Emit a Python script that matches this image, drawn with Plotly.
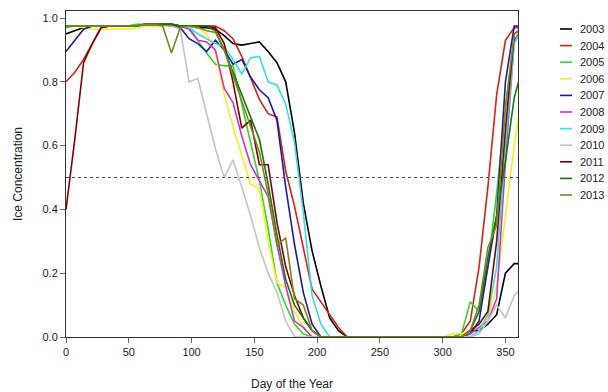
import plotly.graph_objects as go

# Day of year (weekly samples)
days = [0, 7, 14, 21, 28, 35, 42, 49, 56, 63, 70, 77, 84,
        91, 98, 105, 112, 119, 126, 133, 140, 147, 154, 161, 168, 175,
        182, 189, 196, 203, 210, 217, 224, 231, 238, 245, 252, 259, 266,
        273, 280, 287, 294, 301, 308, 315, 322, 329, 336, 343, 350, 357, 364]

years = ["2003", "2004", "2005", "2006", "2007", "2008", "2009", "2010", "2011", "2012", "2013"]

ice_2003 = [0.95, 0.96, 0.97, 0.975, 0.975, 0.975, 0.975, 0.975, 0.975, 0.98, 0.98, 0.98, 0.98,
            0.975, 0.975, 0.97, 0.97, 0.965, 0.945, 0.92, 0.915, 0.92, 0.925, 0.895, 0.86, 0.80,
            0.64, 0.42, 0.27, 0.16, 0.06, 0.02, 0.0, 0.0, 0.0, 0.0, 0.0, 0.0, 0.0,
            0.0, 0.0, 0.0, 0.0, 0.0, 0.0, 0.0, 0.02, 0.02, 0.04, 0.07, 0.20, 0.23, 0.23]
ice_2004 = [0.80, 0.83, 0.87, 0.92, 0.97, 0.975, 0.975, 0.975, 0.975, 0.98, 0.98, 0.98, 0.98,
            0.975, 0.975, 0.975, 0.975, 0.975, 0.96, 0.935, 0.88, 0.81, 0.745, 0.70, 0.69, 0.52,
            0.41, 0.28, 0.15, 0.11, 0.07, 0.03, 0.0, 0.0, 0.0, 0.0, 0.0, 0.0, 0.0,
            0.0, 0.0, 0.0, 0.0, 0.0, 0.0, 0.01, 0.05, 0.22, 0.47, 0.76, 0.93, 0.97, 0.97]
ice_2005 = [0.97, 0.975, 0.975, 0.975, 0.975, 0.975, 0.975, 0.975, 0.98, 0.98, 0.98, 0.98, 0.98,
            0.975, 0.97, 0.93, 0.89, 0.855, 0.85, 0.85, 0.73, 0.61, 0.49, 0.34, 0.17, 0.10,
            0.04, 0.01, 0.0, 0.0, 0.0, 0.0, 0.0, 0.0, 0.0, 0.0, 0.0, 0.0, 0.0,
            0.0, 0.0, 0.0, 0.0, 0.0, 0.0, 0.01, 0.11, 0.08, 0.22, 0.45, 0.72, 0.93, 0.97]
ice_2006 = [0.975, 0.975, 0.97, 0.965, 0.965, 0.965, 0.965, 0.965, 0.97, 0.975, 0.975, 0.975, 0.975,
            0.975, 0.975, 0.97, 0.95, 0.89, 0.76, 0.66, 0.57, 0.48, 0.465, 0.30, 0.17, 0.155,
            0.08, 0.03, 0.0, 0.0, 0.0, 0.0, 0.0, 0.0, 0.0, 0.0, 0.0, 0.0, 0.0,
            0.0, 0.0, 0.0, 0.0, 0.0, 0.01, 0.01, 0.02, 0.03, 0.06, 0.16, 0.38, 0.60, 0.78]
ice_2007 = [0.895, 0.93, 0.965, 0.975, 0.975, 0.975, 0.975, 0.975, 0.975, 0.98, 0.98, 0.98, 0.975,
            0.97, 0.935, 0.92, 0.895, 0.93, 0.90, 0.855, 0.87, 0.815, 0.775, 0.75, 0.68, 0.47,
            0.29, 0.14, 0.04, 0.0, 0.0, 0.0, 0.0, 0.0, 0.0, 0.0, 0.0, 0.0, 0.0,
            0.0, 0.0, 0.0, 0.0, 0.0, 0.0, 0.0, 0.01, 0.05, 0.22, 0.38, 0.80, 0.975, 0.975]
ice_2008 = [0.975, 0.975, 0.975, 0.975, 0.975, 0.975, 0.975, 0.975, 0.975, 0.98, 0.98, 0.98, 0.98,
            0.975, 0.965, 0.93, 0.925, 0.90, 0.78, 0.735, 0.63, 0.54, 0.49, 0.44, 0.29, 0.16,
            0.05, 0.03, 0.0, 0.0, 0.0, 0.0, 0.0, 0.0, 0.0, 0.0, 0.0, 0.0, 0.0,
            0.0, 0.0, 0.0, 0.0, 0.0, 0.0, 0.0, 0.01, 0.03, 0.05, 0.12, 0.55, 0.93, 0.97]
ice_2009 = [0.975, 0.975, 0.975, 0.975, 0.975, 0.975, 0.975, 0.975, 0.975, 0.98, 0.98, 0.98, 0.98,
            0.975, 0.97, 0.95, 0.935, 0.92, 0.91, 0.87, 0.825, 0.875, 0.88, 0.80, 0.79, 0.73,
            0.61, 0.39, 0.13, 0.04, 0.0, 0.0, 0.0, 0.0, 0.0, 0.0, 0.0, 0.0, 0.0,
            0.0, 0.0, 0.0, 0.0, 0.0, 0.0, 0.0, 0.0, 0.02, 0.07, 0.22, 0.60, 0.92, 0.97]
ice_2010 = [0.975, 0.975, 0.975, 0.975, 0.975, 0.975, 0.975, 0.975, 0.975, 0.98, 0.98, 0.98, 0.975,
            0.965, 0.80, 0.81, 0.70, 0.59, 0.50, 0.555, 0.47, 0.38, 0.28, 0.20, 0.14, 0.05,
            0.0, 0.0, 0.0, 0.0, 0.0, 0.0, 0.0, 0.0, 0.0, 0.0, 0.0, 0.0, 0.0,
            0.0, 0.0, 0.0, 0.0, 0.0, 0.0, 0.0, 0.0, 0.01, 0.05, 0.10, 0.06, 0.13, 0.16]
ice_2011 = [0.40, 0.62, 0.86, 0.92, 0.97, 0.975, 0.975, 0.975, 0.975, 0.98, 0.98, 0.98, 0.98,
            0.975, 0.975, 0.975, 0.975, 0.97, 0.92, 0.80, 0.655, 0.68, 0.54, 0.54, 0.36, 0.22,
            0.13, 0.06, 0.02, 0.0, 0.0, 0.0, 0.0, 0.0, 0.0, 0.0, 0.0, 0.0, 0.0,
            0.0, 0.0, 0.0, 0.0, 0.0, 0.0, 0.0, 0.02, 0.04, 0.08, 0.30, 0.65, 0.95, 0.97]
ice_2012 = [0.975, 0.975, 0.975, 0.975, 0.975, 0.975, 0.975, 0.975, 0.975, 0.98, 0.98, 0.98, 0.98,
            0.975, 0.975, 0.975, 0.975, 0.96, 0.90, 0.83, 0.76, 0.685, 0.62, 0.48, 0.32, 0.18,
            0.10, 0.06, 0.02, 0.0, 0.0, 0.0, 0.0, 0.0, 0.0, 0.0, 0.0, 0.0, 0.0,
            0.0, 0.0, 0.0, 0.0, 0.0, 0.0, 0.0, 0.02, 0.08, 0.25, 0.38, 0.55, 0.75, 0.85]
ice_2013 = [0.975, 0.975, 0.975, 0.975, 0.975, 0.975, 0.975, 0.975, 0.975, 0.98, 0.98, 0.975, 0.89,
            0.97, 0.975, 0.97, 0.96, 0.955, 0.90, 0.82, 0.74, 0.66, 0.58, 0.45, 0.29, 0.31,
            0.12, 0.10, 0.02, 0.0, 0.0, 0.0, 0.0, 0.0, 0.0, 0.0, 0.0, 0.0, 0.0,
            0.0, 0.0, 0.0, 0.0, 0.0, 0.0, 0.0, 0.02, 0.10, 0.28, 0.35, 0.72, 0.95, 0.97]

series = [ice_2003, ice_2004, ice_2005, ice_2006, ice_2007, ice_2008,
          ice_2009, ice_2010, ice_2011, ice_2012, ice_2013]

colors = ["#000000", "#d42020", "#33d433", "#f2f21a", "#1c1c9a", "#cc33cc",
          "#33e0e0", "#c4c4c4", "#800000", "#0f7a0f", "#84841c"]

threshold = 0.5
x_ticks = [0, 50, 100, 150, 200, 250, 300, 350]
y_ticks = [0.0, 0.2, 0.4, 0.6, 0.8, 1.0]

FONT = "Liberation Sans, Arial, sans-serif"

# layout geometry (page body margin is removed, figure fills the window)
W, H = 608, 392
M_L, M_R, M_T, M_B = 66, 90, 11, 55
PW, PH = W - M_L - M_R, H - M_T - M_B

fig = go.Figure()
for name, vals, col in zip(years, series, colors):
    fig.add_trace(go.Scatter(x=days, y=vals, mode="lines", name=name,
                             line=dict(color=col, width=1.6)))

fig.add_hline(y=threshold, line=dict(color="#555555", width=1, dash="dot"))

# compact legend (key line + label) at the right of the plot
LEG_X0, LEG_X1, LEG_TX = 560, 572, 578     # figure px
LEG_Y0, LEG_DY = 29, 16.6                  # figure px
for i, (name, col) in enumerate(zip(years, colors)):
    ypx = LEG_Y0 + i * LEG_DY
    yp = (H - M_B - ypx) / PH
    fig.add_shape(type="line", xref="paper", yref="paper",
                  x0=(LEG_X0 - M_L) / PW, x1=(LEG_X1 - M_L) / PW, y0=yp, y1=yp,
                  line=dict(color=col, width=1.6))
    fig.add_annotation(xref="paper", yref="paper", x=(LEG_TX - M_L) / PW, y=yp,
                       text=name, showarrow=False, xanchor="left", yanchor="middle",
                       font=dict(family=FONT, size=11, color="#222222"))

fig.update_layout(
    width=W, height=H,
    margin=dict(l=M_L, r=M_R, t=M_T, b=M_B),
    paper_bgcolor="white", plot_bgcolor="white",
    font=dict(family=FONT, size=11, color="#222222"),
    showlegend=False,
)
fig.update_xaxes(range=[0, 360], tickvals=x_ticks, ticktext=[str(v) for v in x_ticks],
                 ticks="outside", ticklen=5, tickcolor="#666666",
                 showline=True, linecolor="#333333", linewidth=1, mirror=True,
                 showgrid=False, zeroline=False, automargin=False,
                 title=dict(text="Day of the Year", font=dict(size=12), standoff=22))
fig.update_yaxes(range=[0, 1.022], tickvals=y_ticks, ticktext=[f"{v:.1f}" for v in y_ticks],
                 ticks="outside", ticklen=5, tickcolor="#666666",
                 showline=True, linecolor="#333333", linewidth=1, mirror=True,
                 showgrid=False, zeroline=False, automargin=False,
                 title=dict(text="Ice Concentration", font=dict(size=12), standoff=17))

fig.write_html("out.html", config={"displayModeBar": False},
               post_script="document.body.style.margin='0';document.body.style.overflow='hidden';")
